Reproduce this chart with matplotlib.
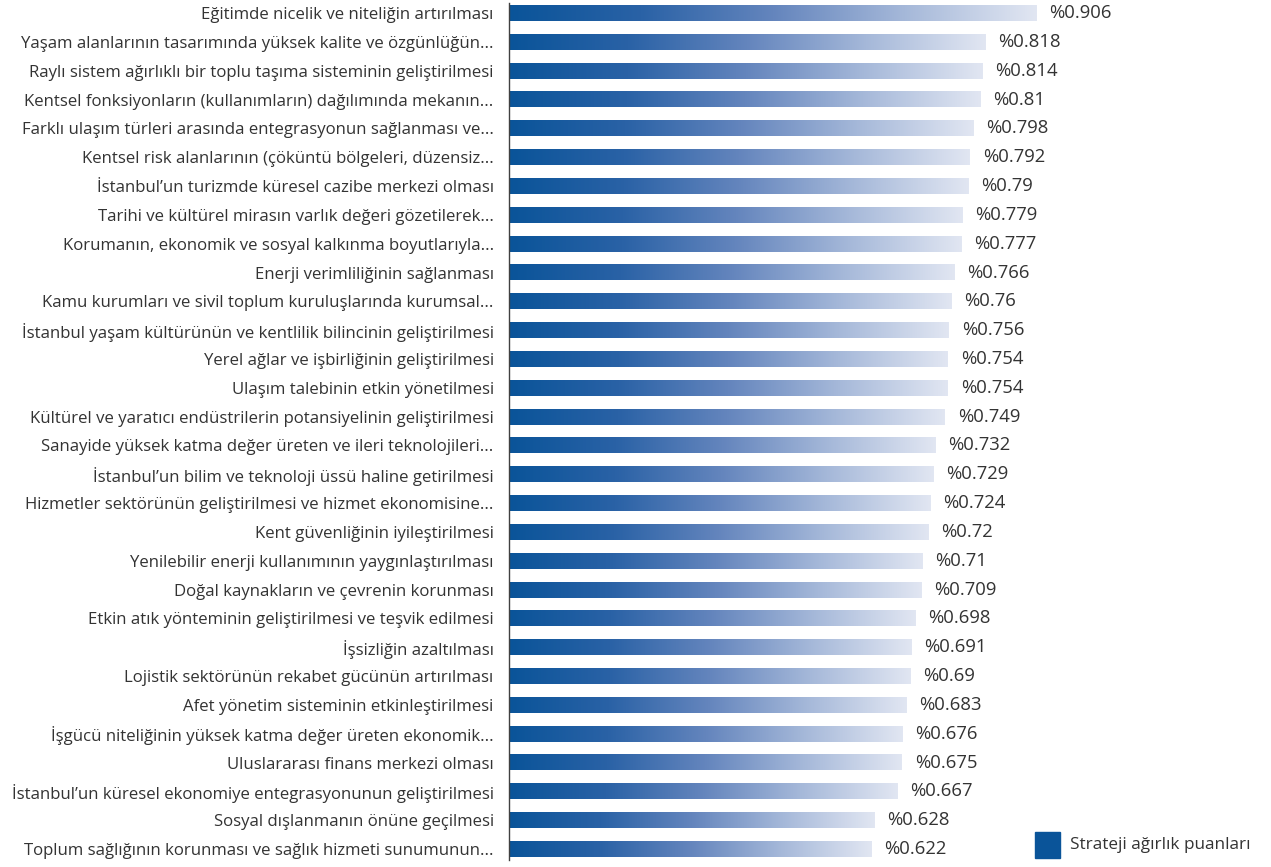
import numpy as np
import matplotlib.pyplot as plt
from matplotlib.colors import LinearSegmentedColormap

plt.rcParams['font.family'] = ['Open Sans', 'DejaVu Sans']

labels = [
    "Eğitimde nicelik ve niteliğin artırılması",
    "Yaşam alanlarının tasarımında yüksek kalite ve özgünlüğün...",
    "Raylı sistem ağırlıklı bir toplu taşıma sisteminin geliştirilmesi",
    "Kentsel fonksiyonların (kullanımların) dağılımında mekanın...",
    "Farklı ulaşım türleri arasında entegrasyonun sağlanması ve...",
    "Kentsel risk alanlarının (çöküntü bölgeleri, düzensiz...",
    "İstanbul’un turizmde küresel cazibe merkezi olması",
    "Tarihi ve kültürel mirasın varlık değeri gözetilerek...",
    "Korumanın, ekonomik ve sosyal kalkınma boyutlarıyla...",
    "Enerji verimliliğinin sağlanması",
    "Kamu kurumları ve sivil toplum kuruluşlarında kurumsal...",
    "İstanbul yaşam kültürünün ve kentlilik bilincinin geliştirilmesi",
    "Yerel ağlar ve işbirliğinin geliştirilmesi",
    "Ulaşım talebinin etkin yönetilmesi",
    "Kültürel ve yaratıcı endüstrilerin potansiyelinin geliştirilmesi",
    "Sanayide yüksek katma değer üreten ve ileri teknolojileri...",
    "İstanbul’un bilim ve teknoloji üssü haline getirilmesi",
    "Hizmetler sektörünün geliştirilmesi ve hizmet ekonomisine...",
    "Kent güvenliğinin iyileştirilmesi",
    "Yenilebilir enerji kullanımının yaygınlaştırılması",
    "Doğal kaynakların ve çevrenin korunması",
    "Etkin atık yönteminin geliştirilmesi ve teşvik edilmesi",
    "İşsizliğin azaltılması",
    "Lojistik sektörünün rekabet gücünün artırılması",
    "Afet yönetim sisteminin etkinleştirilmesi",
    "İşgücü niteliğinin yüksek katma değer üreten ekonomik...",
    "Uluslararası finans merkezi olması",
    "İstanbul’un küresel ekonomiye entegrasyonunun geliştirilmesi",
    "Sosyal dışlanmanın önüne geçilmesi",
    "Toplum sağlığının korunması ve sağlık hizmeti sunumunun...",
]
values = [0.906, 0.818, 0.814, 0.81, 0.798, 0.792, 0.79, 0.779, 0.777, 0.766,
          0.76, 0.756, 0.754, 0.754, 0.749, 0.732, 0.729, 0.724, 0.72, 0.71,
          0.709, 0.698, 0.691, 0.69, 0.683, 0.676, 0.675, 0.667, 0.628, 0.622]
series_name = "Strateji ağırlık puanları"

cmap = LinearSegmentedColormap.from_list(
    "bar", ["#0a5499", "#2a62a6", "#6485bd", "#a5b8d9", "#e1e6f2"])

fig = plt.figure(figsize=(12.71, 8.67), dpi=100)
ax = fig.add_axes([509 / 1271, 1 - 860 / 867, (1250 - 509) / 1271, 857 / 867])

n = len(values)
h = 0.55
grad = np.linspace(0, 1, 256).reshape(1, -1)
for i, v in enumerate(values):
    ax.imshow(grad, extent=[0, v, i + h / 2, i - h / 2], aspect='auto',
              cmap=cmap, interpolation='bilinear', origin='upper')
    ax.text(v + 0.022, i, "%" + f"{v:g}", va='center', ha='left',
            fontsize=13.3, color='#333333')

ax.set_xlim(0, (1250 - 509) / 582.0)
ax.set_ylim(n - 1 + 0.38, -0.35)
ax.set_yticks(range(n))
ax.set_yticklabels(labels, fontsize=12.1, color='#333333')
ax.tick_params(axis='y', length=0, pad=11)
ax.set_xticks([])
for s in ['top', 'right', 'bottom']:
    ax.spines[s].set_visible(False)
ax.spines['left'].set_color('#404040')
ax.spines['left'].set_linewidth(1.0)

# legend
fig.patches.append(plt.Rectangle((1035 / 1271, 1 - 858 / 867), 25 / 1271, 26 / 867,
                                 transform=fig.transFigure, color='#0a5499'))
fig.text(1070 / 1271, 1 - 845 / 867, series_name, va='center', ha='left',
         fontsize=12.3, color='#333333')

fig.savefig('out.png', dpi=100)
